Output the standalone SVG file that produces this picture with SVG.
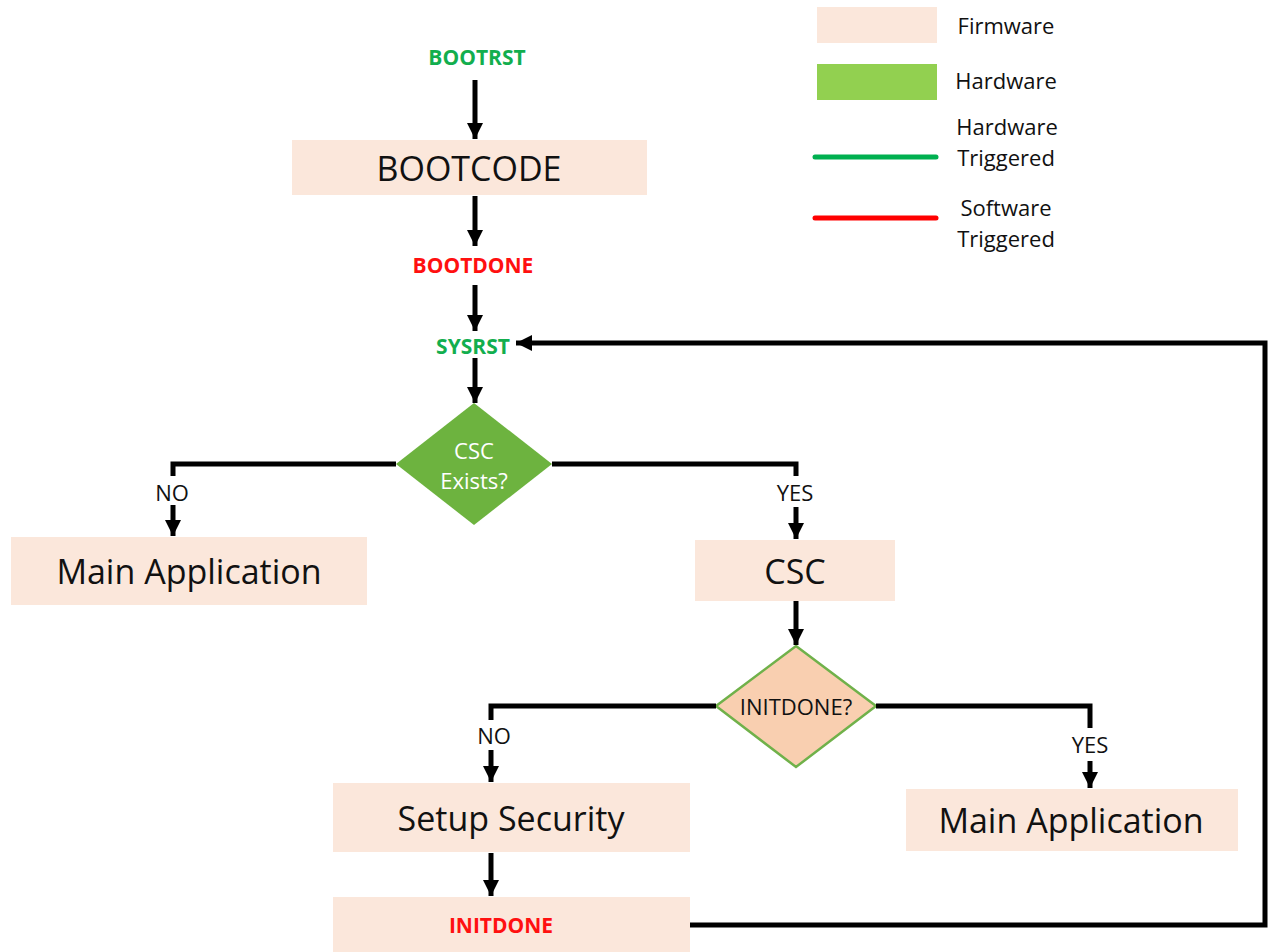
<svg xmlns="http://www.w3.org/2000/svg" width="1268" height="952" viewBox="0 0 1268 952">
<style>
.fw{fill:#FBE7DB}
.big{font-family:"Open Sans","Noto Sans",sans-serif;font-size:34px;fill:#111;text-anchor:middle;dominant-baseline:central}
.sig{font-family:"Open Sans","Noto Sans",sans-serif;font-size:21px;font-weight:bold;text-anchor:middle;dominant-baseline:central}
.lbl{font-family:"Open Sans","Noto Sans",sans-serif;font-size:22px;fill:#111;text-anchor:middle;dominant-baseline:central}
.leg{font-family:"Open Sans","Noto Sans",sans-serif;font-size:22px;fill:#111;text-anchor:middle;dominant-baseline:central}
.g{fill:#12AE4E}
.r{fill:#FF1010}
.ln{fill:none;stroke:#000;stroke-width:5;marker-end:url(#ah)}
.ln0{fill:none;stroke:#000;stroke-width:5}
</style>
<defs>
<marker id="ah" markerUnits="userSpaceOnUse" markerWidth="18" markerHeight="18" refX="16" refY="9" orient="auto">
<path d="M0,1 L16,9 L0,17 Z" fill="#000"/>
</marker>
</defs>
<g id="legend">
<rect class="fw" x="817" y="7" width="120" height="36"/>
<text class="leg" x="1006" y="25">Firmware</text>
<rect x="817" y="64" width="120" height="36" fill="#92D050"/>
<text class="leg" x="1006" y="80">Hardware</text>
<text class="leg" x="1007" y="126">Hardware</text>
<text class="leg" x="1006" y="157">Triggered</text>
<line x1="815" y1="157" x2="936" y2="157" stroke="#00B050" stroke-width="5" stroke-linecap="round"/>
<text class="leg" x="1006" y="207">Software</text>
<text class="leg" x="1006" y="238">Triggered</text>
<line x1="815" y1="218" x2="936" y2="218" stroke="#FF0000" stroke-width="5" stroke-linecap="round"/>
</g>
<g id="bootrst"><text class="sig g" x="477" y="57">BOOTRST</text></g>
<g id="bootcode"><rect class="fw" x="292" y="140" width="355" height="55"/><text class="big" x="469" y="168">BOOTCODE</text></g>
<g id="bootdone"><text class="sig r" x="473" y="265">BOOTDONE</text></g>
<g id="sysrst"><text class="sig g" x="473" y="346">SYSRST</text></g>
<g id="csc-exists"><polygon points="474,403 552,464 474,525 396,464" fill="#6DB33F"/>
<text class="lbl" x="474" y="450" style="fill:#fff">CSC</text>
<text class="lbl" x="474" y="480" style="fill:#fff">Exists?</text></g>
<g id="main-app-1"><rect class="fw" x="11" y="537" width="356" height="68"/><text class="big" x="189" y="571">Main Application</text></g>
<g id="csc"><rect class="fw" x="695" y="540" width="200" height="61"/><text class="big" x="795" y="571">CSC</text></g>
<g id="initdone-q"><polygon points="796,646 876,706 796,767 716,706" fill="#F9CFB0" stroke="#70B14A" stroke-width="2.5"/>
<text class="lbl" x="796" y="706">INITDONE?</text></g>
<g id="setup-security"><rect class="fw" x="333" y="783" width="357" height="69"/><text class="big" x="511" y="818">Setup Security</text></g>
<g id="main-app-2"><rect class="fw" x="906" y="789" width="332" height="62"/><text class="big" x="1071" y="820">Main Application</text></g>
<g id="initdone"><rect class="fw" x="333" y="897" width="357" height="55"/><text class="sig r" x="501" y="925">INITDONE</text></g>
<g id="connectors">
<line class="ln" x1="475" y1="80" x2="475" y2="139"/>
<line class="ln" x1="475" y1="196" x2="475" y2="246"/>
<line class="ln" x1="475" y1="285" x2="475" y2="331"/>
<line class="ln" x1="475" y1="358" x2="475" y2="403"/>
<polyline class="ln0" points="396,464 173,464 173,476"/>
<text class="lbl" x="172" y="492">NO</text>
<line class="ln" x1="173" y1="505" x2="173" y2="536"/>
<polyline class="ln0" points="552,464 796,464 796,476"/>
<text class="lbl" x="795" y="492">YES</text>
<line class="ln" x1="796" y1="507" x2="796" y2="539"/>
<line class="ln" x1="796" y1="601" x2="796" y2="645"/>
<polyline class="ln0" points="716,706 491,706 491,720"/>
<text class="lbl" x="494" y="735">NO</text>
<line class="ln" x1="491" y1="750" x2="491" y2="782"/>
<polyline class="ln0" points="876,706 1090,706 1090,728"/>
<text class="lbl" x="1090" y="744">YES</text>
<line class="ln" x1="1090" y1="761" x2="1090" y2="788"/>
<line class="ln" x1="491" y1="853" x2="491" y2="896"/>
<polyline class="ln" points="690,925 1265,925 1265,343 516,343"/>
</g>
</svg>
